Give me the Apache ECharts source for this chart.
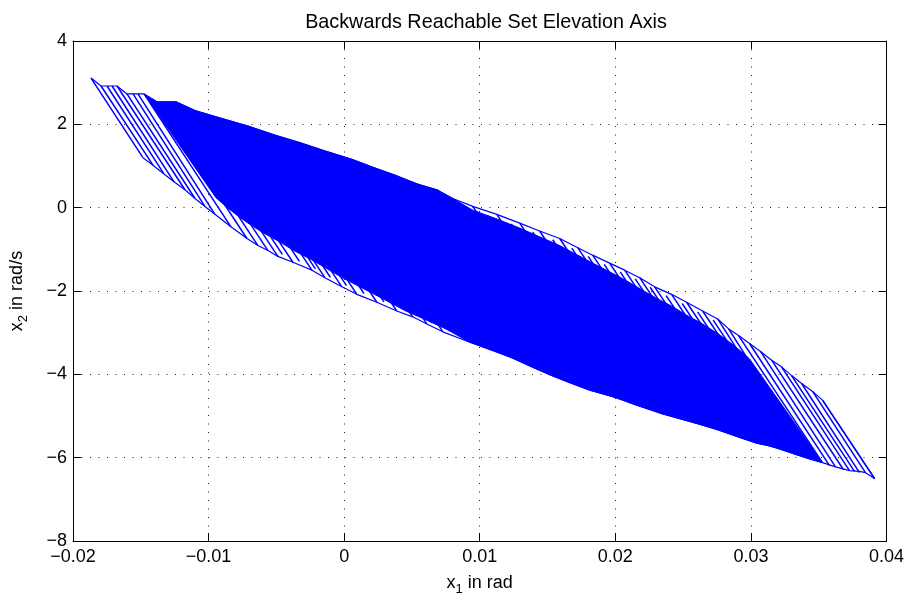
<!DOCTYPE html>
<html><head><meta charset="utf-8">
<script src="https://cdn.jsdelivr.net/npm/echarts@6/dist/echarts.min.js"></script>
<style>html,body{margin:0;padding:0;background:#fff}#c{width:907px;height:601px}</style>
</head><body><div id="c"></div>
<script>
// axis ticks
const xTicks = [-0.02, -0.01, 0, 0.01, 0.02, 0.03, 0.04];
const yTicks = [-8, -6, -4, -2, 0, 2, 4];

// outer upper boundary of the reachable set (x1 rad, x2 rad/s)
const upperX = [-0.01867,-0.01793,-0.01675,-0.01602,-0.01476,-0.01381,-0.01240,-0.01100,-0.00901,-0.00710,-0.00511,-0.00327,-0.00150,0.00057,0.00212,0.00374,0.00536,0.00683,0.00801,0.00949,0.01126,0.01295,0.01442,0.01590,0.01723,0.01833,0.01958,0.02069,0.02180,0.02290,0.02415,0.02526,0.02644,0.02755,0.02836,0.02909,0.02990,0.03071,0.03153,0.03226,0.03300,0.03374,0.03455,0.03528,0.03912];
const upperY = [3.11,2.92,2.92,2.73,2.73,2.54,2.54,2.33,2.14,1.96,1.74,1.56,1.37,1.16,0.97,0.78,0.57,0.43,0.22,0.03,-0.16,-0.37,-0.56,-0.74,-0.96,-1.14,-1.33,-1.50,-1.68,-1.90,-2.08,-2.27,-2.48,-2.67,-2.91,-3.07,-3.26,-3.45,-3.66,-3.82,-4.03,-4.22,-4.41,-4.62,-6.50];

// outer lower boundary
const lowerX = [-0.01484,-0.01410,-0.01329,-0.01255,-0.01174,-0.01100,-0.01027,-0.00953,-0.00835,-0.00717,-0.00636,-0.00562,-0.00489,-0.00378,-0.00238,-0.00142,-0.00017,0.00094,0.00241,0.00388,0.00506,0.00610,0.00728,0.00927,0.01148,0.01243,0.01369,0.01516,0.01664,0.01811,0.01995,0.02157,0.02349,0.02600,0.02747,0.02939,0.03042,0.03138,0.03211,0.03337,0.03433,0.03528,0.03624,0.03727,0.03801,0.03845,0.03912];
const lowerY = [1.20,1.02,0.81,0.62,0.43,0.22,0.03,-0.16,-0.46,-0.74,-0.91,-1.03,-1.17,-1.31,-1.50,-1.68,-1.90,-2.08,-2.27,-2.48,-2.62,-2.79,-2.98,-3.23,-3.49,-3.61,-3.80,-4.01,-4.20,-4.38,-4.55,-4.74,-4.95,-5.18,-5.32,-5.54,-5.65,-5.72,-5.79,-5.93,-6.03,-6.12,-6.22,-6.31,-6.33,-6.36,-6.50];

// densely covered core of the set
const coreX = [-0.01476,-0.01381,-0.01240,-0.01100,-0.00901,-0.00710,-0.00511,-0.00327,-0.00150,0.00057,0.00212,0.00374,0.00536,0.00683,0.00801,0.00949,0.01126,0.01295,0.01442,0.01590,0.01723,0.01833,0.01958,0.02069,0.02180,0.02290,0.02415,0.02526,0.02644,0.02755,0.02836,0.02917,0.02990,
  0.03528,0.03433,0.03337,0.03211,0.03138,0.03042,0.02939,0.02747,0.02600,0.02349,0.02157,0.01995,0.01811,0.01664,0.01516,0.01369,0.01243,0.01148,0.00927,0.00750,0.00602,0.00455,0.00322,0.00212,0.00086,-0.00024,-0.00135,-0.00245,-0.00371,-0.00481,-0.00599,-0.00710,-0.00791,-0.00872,-0.00946];
const coreY = [2.73,2.54,2.54,2.33,2.14,1.96,1.74,1.56,1.37,1.16,0.97,0.78,0.57,0.43,0.22,-0.06,-0.27,-0.49,-0.70,-0.91,-1.14,-1.33,-1.54,-1.73,-1.94,-2.15,-2.36,-2.58,-2.79,-3.02,-3.21,-3.42,-3.63,
  -6.12,-6.03,-5.93,-5.79,-5.72,-5.65,-5.54,-5.32,-5.18,-4.95,-4.74,-4.55,-4.38,-4.20,-4.01,-3.80,-3.61,-3.49,-3.23,-2.91,-2.69,-2.48,-2.25,-2.06,-1.85,-1.66,-1.45,-1.24,-1.03,-0.81,-0.60,-0.37,-0.18,0.03,0.24];

// separate trajectory strokes, upper-left tip
const tlX0 = [-0.01867,-0.01793,-0.01749,-0.01712,-0.01675,-0.01602,-0.01557,-0.01521,-0.01476,-0.01381,-0.01336,-0.01285,-0.01240];
const tlY0 = [3.11,2.92,2.92,2.92,2.92,2.73,2.73,2.73,2.73,2.54,2.54,2.54,2.54];
const tlX1 = [-0.01484,-0.01410,-0.01329,-0.01255,-0.01174,-0.01100,-0.01027,-0.00953,-0.00835,-0.00717,-0.00636,-0.00562,-0.00489];
const tlY1 = [1.20,1.02,0.81,0.62,0.43,0.22,0.03,-0.16,-0.46,-0.74,-0.91,-1.03,-1.17];

// separate trajectory strokes, lower-right tip
const brX0 = [0.03528,0.03455,0.03374,0.03300,0.03226,0.03153,0.03071,0.02990,0.02909,0.02836,0.02755];
const brY0 = [-4.62,-4.41,-4.22,-4.03,-3.82,-3.66,-3.45,-3.26,-3.07,-2.91,-2.67];
const brX1 = [0.03912,0.03845,0.03801,0.03764,0.03727,0.03683,0.03624,0.03580,0.03528,0.03447,0.03403];
const brY1 = [-6.50,-6.36,-6.36,-6.33,-6.31,-6.29,-6.22,-6.19,-6.12,-6.05,-5.98];

// strokes along the upper fringe (reaching the edge)
const ufX0 = [-0.01100,-0.00901,-0.00710,-0.00511,-0.00327,-0.00150,0.00057,0.00212,0.00374,0.00536,0.00683,0.00801,0.00949,0.01126,0.01295,0.01442,0.01590,0.01723,0.01833,0.01958,0.02069,0.02180,0.02290,0.02415,0.02526,0.02644];
const ufY0 = [2.33,2.14,1.96,1.74,1.56,1.37,1.16,0.97,0.78,0.57,0.43,0.22,0.03,-0.16,-0.37,-0.56,-0.74,-0.96,-1.14,-1.33,-1.50,-1.68,-1.90,-2.08,-2.27,-2.48];
const ufX1 = [-0.00909,-0.00710,-0.00518,-0.00319,-0.00135,0.00042,0.00248,0.00403,0.00565,0.00728,0.00875,0.00993,0.01140,0.01317,0.01487,0.01634,0.01782,0.01914,0.02025,0.02150,0.02261,0.02371,0.02482,0.02607,0.02718,0.02836];
const ufY1 = [1.39,1.20,1.02,0.81,0.62,0.43,0.22,0.03,-0.16,-0.37,-0.51,-0.72,-0.91,-1.10,-1.31,-1.50,-1.68,-1.90,-2.08,-2.27,-2.44,-2.62,-2.83,-3.02,-3.21,-3.42];

// strokes along the upper fringe (ending just inside the edge)
const uiX0 = [-0.00979,-0.00784,-0.00589,-0.00397,-0.00217,-0.00025,0.00157,0.00315,0.00477,0.00632,0.00764,0.00897,0.01060,0.01233,0.01391,0.01538,0.01679,0.01800,0.01918,0.02036,0.02147,0.02257,0.02375,0.02493,0.02607,0.02722];
const uiY0 = [2.12,1.93,1.73,1.53,1.35,1.15,0.95,0.76,0.56,0.38,0.21,0.01,-0.19,-0.39,-0.59,-0.77,-0.97,-1.17,-1.36,-1.54,-1.71,-1.91,-2.11,-2.30,-2.50,-2.70];
const uiX1 = [-0.00787,-0.00592,-0.00397,-0.00205,-0.00025,0.00167,0.00349,0.00507,0.00669,0.00824,0.00956,0.01089,0.01252,0.01425,0.01583,0.01730,0.01871,0.01992,0.02110,0.02228,0.02339,0.02449,0.02567,0.02685,0.02799,0.02914];
const uiY1 = [1.18,0.99,0.79,0.59,0.41,0.21,0.01,-0.18,-0.38,-0.56,-0.73,-0.93,-1.13,-1.33,-1.53,-1.71,-1.91,-2.11,-2.30,-2.48,-2.65,-2.85,-3.05,-3.24,-3.44,-3.64];

// strokes along the lower fringe (reaching the edge)
const lfX0 = [-0.00378,-0.00238,-0.00142,-0.00017,0.00094,0.00241,0.00388,0.00506,0.00610,0.00728,0.00927,0.01148,0.01243,0.01369,0.01516,0.01664,0.01811,0.01995,0.02157,0.02349,0.02600,0.02747,0.02939,0.03042,0.03138,0.03211,0.03337];
const lfY0 = [-1.31,-1.50,-1.68,-1.90,-2.08,-2.27,-2.48,-2.62,-2.79,-2.98,-3.23,-3.49,-3.61,-3.80,-4.01,-4.20,-4.38,-4.55,-4.74,-4.95,-5.18,-5.32,-5.54,-5.65,-5.72,-5.79,-5.93];
const lfX1 = [-0.00570,-0.00430,-0.00334,-0.00209,-0.00098,0.00049,0.00197,0.00315,0.00418,0.00543,0.00735,0.00956,0.01052,0.01177,0.01325,0.01472,0.01619,0.01804,0.01966,0.02157,0.02408,0.02555,0.02747,0.02850,0.02946,0.03020,0.03145];
const lfY1 = [-0.37,-0.56,-0.74,-0.96,-1.14,-1.33,-1.54,-1.68,-1.85,-2.04,-2.29,-2.55,-2.67,-2.86,-3.07,-3.26,-3.45,-3.61,-3.80,-4.01,-4.24,-4.38,-4.60,-4.71,-4.78,-4.85,-5.00];

// strokes along the lower fringe (ending just inside the edge)
const liX0 = [-0.00456,-0.00330,-0.00212,-0.00102,0.00017,0.00146,0.00293,0.00425,0.00536,0.00647,0.00806,0.01016,0.01174,0.01284,0.01421,0.01568,0.01716,0.01881,0.02054,0.02231,0.02453,0.02652,0.02821,0.02969,0.03068,0.03153,0.03252];
const liY0 = [-1.12,-1.29,-1.47,-1.67,-1.87,-2.06,-2.26,-2.43,-2.59,-2.77,-2.99,-3.24,-3.43,-3.59,-3.79,-3.99,-4.17,-4.35,-4.53,-4.73,-4.95,-5.13,-5.31,-5.48,-5.57,-5.64,-5.74];
const liX1 = [-0.00648,-0.00522,-0.00404,-0.00294,-0.00175,-0.00046,0.00101,0.00233,0.00344,0.00455,0.00614,0.00824,0.00982,0.01092,0.01229,0.01376,0.01524,0.01689,0.01862,0.02039,0.02261,0.02460,0.02629,0.02777,0.02876,0.02961,0.03060];
const liY1 = [-0.18,-0.35,-0.53,-0.73,-0.93,-1.12,-1.32,-1.49,-1.65,-1.83,-2.05,-2.30,-2.49,-2.65,-2.85,-3.05,-3.23,-3.41,-3.59,-3.79,-4.01,-4.19,-4.37,-4.54,-4.63,-4.70,-4.80];

const BLUE = '#0000ff';
const FONT = '"Liberation Sans", Arial, Helvetica, sans-serif';

function pairs(xs, ys) { return xs.map((x, i) => [x, ys[i]]); }
function segs(x0, y0, x1, y1) { return x0.map((v, i) => [v, y0[i], x1[i], y1[i]]); }

function segSeries(data, w) {
  return {
    type: 'custom', data: data, encode: { x: [0, 2], y: [1, 3] },
    silent: true, animation: false, clip: true,
    renderItem: function (params, api) {
      const p0 = api.coord([api.value(0), api.value(1)]);
      const p1 = api.coord([api.value(2), api.value(3)]);
      return { type: 'line', shape: { x1: p0[0], y1: p0[1], x2: p1[0], y2: p1[1] },
               style: { stroke: BLUE, lineWidth: w } };
    }
  };
}

function lblFmt(v) {
  const r = Math.round(v * 100) / 100;
  if (r === 0) return '0';
  return (r < 0 ? '\u2212' : '') + String(Math.abs(r));
}

const xMin = xTicks[0], xMax = xTicks[xTicks.length - 1];
const yMin = yTicks[0], yMax = yTicks[yTicks.length - 1];
const xInt = xTicks[1] - xTicks[0], yInt = yTicks[1] - yTicks[0];

const tickStyle = { show: true, inside: true, length: 8, lineStyle: { color: '#000', width: 1 } };
const lineStyle = { show: true, onZero: false, lineStyle: { color: '#000', width: 1 } };
const gridLine = { show: true, lineStyle: { color: '#222', width: 1, type: [1, 7.5] } };
const nameStyle = {
  fontSize: 18, fontFamily: FONT, color: '#000',
  rich: { s: { fontSize: 13, fontFamily: FONT, color: '#000', padding: [12, 0, 0, 0] } }
};

const chart = echarts.init(document.getElementById('c'), null, { renderer: 'canvas' });
chart.setOption({
  animation: false,
  backgroundColor: '#fff',
  title: {
    text: 'Backwards Reachable Set Elevation Axis',
    left: 481, top: 8, textAlign: 'center',
    textStyle: { fontSize: 19.8, fontWeight: 'normal', fontFamily: FONT, color: '#000' }
  },
  grid: { left: 73, right: 20, top: 41, bottom: 49, containLabel: false },
  xAxis: [
    { type: 'value', min: xMin, max: xMax, interval: xInt, position: 'bottom',
      axisLine: lineStyle, axisTick: tickStyle, splitLine: gridLine,
      axisLabel: { formatter: lblFmt, color: '#000', fontSize: 18, fontFamily: FONT, margin: 7 },
      name: 'x{s|1} in rad', nameLocation: 'middle', nameGap: 30, nameTextStyle: nameStyle },
    { type: 'value', min: xMin, max: xMax, interval: xInt, position: 'top',
      axisLine: lineStyle, axisTick: tickStyle, splitLine: { show: false }, axisLabel: { show: false } }
  ],
  yAxis: [
    { type: 'value', min: yMin, max: yMax, interval: yInt, position: 'left',
      axisLine: lineStyle, axisTick: tickStyle, splitLine: gridLine,
      axisLabel: { formatter: lblFmt, color: '#000', fontSize: 18, fontFamily: FONT, margin: 6 },
      name: 'x{s|2} in rad/s', nameLocation: 'middle', nameGap: 43, nameTextStyle: nameStyle },
    { type: 'value', min: yMin, max: yMax, interval: yInt, position: 'right',
      axisLine: lineStyle, axisTick: tickStyle, splitLine: { show: false }, axisLabel: { show: false } }
  ],
  series: [
    {
      type: 'custom', data: [[coreX[0], coreY[0]]], silent: true, animation: false, clip: true,
      renderItem: function (params, api) {
        const pts = coreX.map((x, i) => api.coord([x, coreY[i]]));
        return { type: 'polygon', shape: { points: pts }, style: { fill: BLUE, stroke: BLUE, lineWidth: 1 } };
      }
    },
    { type: 'line', data: pairs(upperX, upperY), symbol: 'none', showSymbol: false, silent: true,
      lineStyle: { color: BLUE, width: 1.2 }, animation: false },
    { type: 'line', data: pairs(lowerX, lowerY), symbol: 'none', showSymbol: false, silent: true,
      lineStyle: { color: BLUE, width: 1.2 }, animation: false },
    segSeries(segs(tlX0, tlY0, tlX1, tlY1), 1.5),
    segSeries(segs(brX0, brY0, brX1, brY1), 1.5),
    segSeries(segs(ufX0, ufY0, ufX1, ufY1), 1.5),
    segSeries(segs(uiX0, uiY0, uiX1, uiY1), 1.5),
    segSeries(segs(lfX0, lfY0, lfX1, lfY1), 1.5),
    segSeries(segs(liX0, liY0, liX1, liY1), 1.5)
  ]
});
</script>
</body></html>
